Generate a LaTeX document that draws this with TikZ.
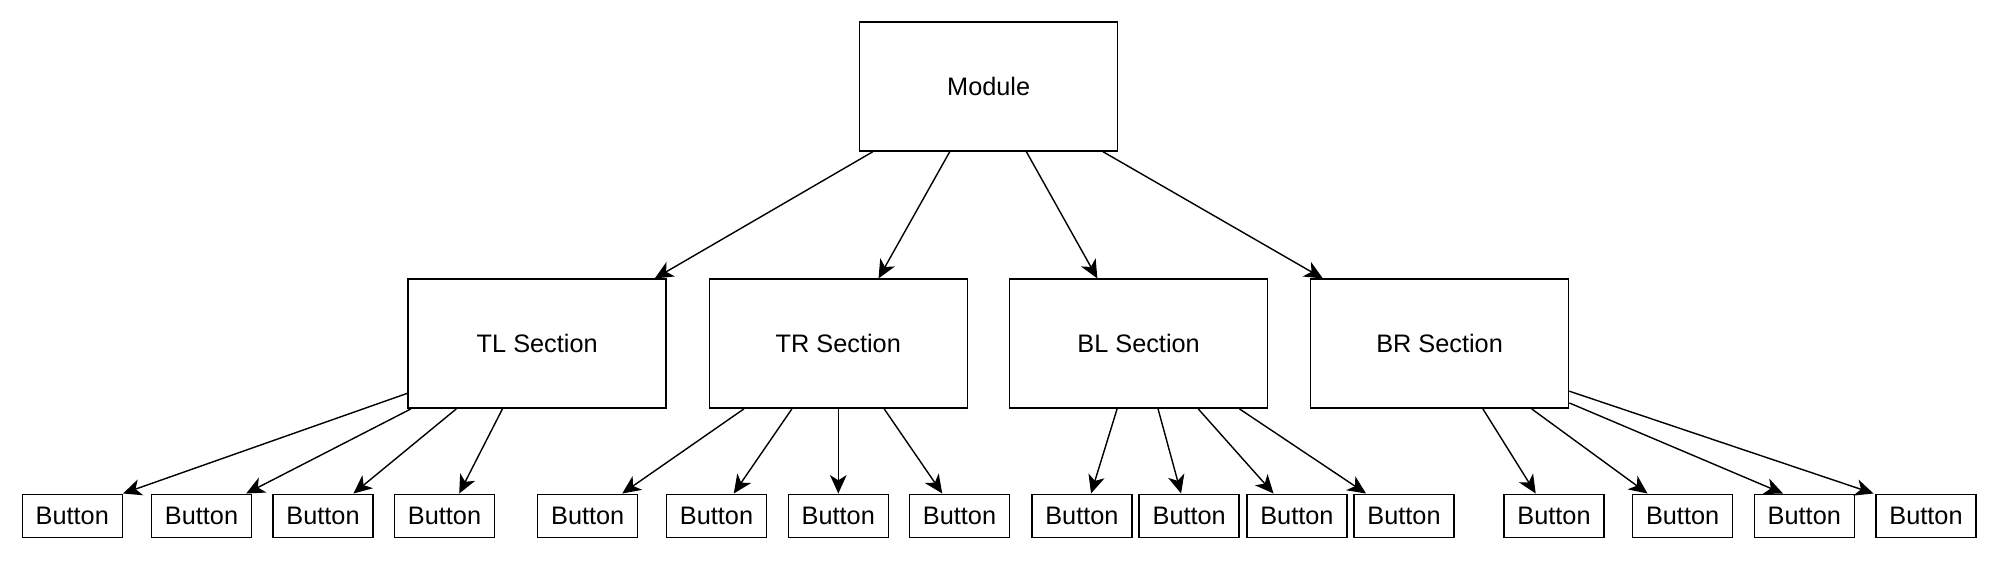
\documentclass[tikz,border=0pt]{standalone}
\usepackage{fontspec}
\setmainfont{Liberation Sans}
\usetikzlibrary{arrows.meta,calc}

\begin{document}
\begin{tikzpicture}[
  x=0.02cm, y=-0.02cm,
  box/.style={draw, line width=0.85pt, fill=white, inner sep=0pt, font=\fontsize{14.4}{17}\selectfont},
  sectionbox/.style={box, minimum width=5.16cm, minimum height=2.58cm},
  btn/.style={box, minimum width=2cm, minimum height=0.87cm},
  link/.style={draw, line width=0.8pt, -{Stealth[length=10.5pt, width=9.5pt, inset=3pt]}},
]
\useasboundingbox (0,0) rectangle (1999,561);

\node[sectionbox] (module) at (988.7,86.4) {Module};

\node[sectionbox] (tl) at (537.2,343.7) {TL Section};
\node[sectionbox] (tr) at (838.3,343.7) {TR Section};
\node[sectionbox] (bl) at (1138.6,343.7) {BL Section};
\node[sectionbox] (br) at (1439.6,343.7) {BR Section};

\foreach \n/\x in {1/72.3, 2/201.5, 3/323, 4/444.5, 5/587.7, 6/716.5, 7/838.3, 8/959.5,
                   9/1081.9, 10/1189.2, 11/1296.9, 12/1404, 13/1554, 14/1682.6, 15/1804.3, 16/1926}
  \node[btn] (b\n) at (\x,516) {Button};

% module to sections
\foreach \a/\dst/\b in {0.054/tl/0.953, 0.35/tr/0.655, 0.645/bl/0.341, 0.94/br/0.05}
  \draw[link] ($(module.south west)!\a!(module.south east)$) -- ($(\dst.north west)!\b!(\dst.north east)$);

% sections to buttons
\draw[link] ($(tl.north west)!0.88!(tl.south west)$) -- (b1.north east);
\foreach \src/\a/\dst/\b in {tl/0.013/b2/0.94, tl/0.188/b3/0.80, tl/0.366/b4/0.645,
                             tr/0.136/b5/0.84, tr/0.321/b6/0.67, tr/0.5/b7/0.5, tr/0.677/b8/0.33,
                             bl/0.417/b9/0.59, bl/0.575/b10/0.42, bl/0.73/b11/0.27, bl/0.889/b12/0.126,
                             br/0.667/b13/0.32, br/0.855/b14/0.154}
  \draw[link] ($(\src.south west)!\a!(\src.south east)$) -- ($(\dst.north west)!\b!(\dst.north east)$);
\draw[link] ($(br.north east)!0.954!(br.south east)$) -- ($(b15.north west)!0.29!(b15.north east)$);
\draw[link] ($(br.north east)!0.864!(br.south east)$) -- ([xshift=-1pt]b16.north west);
\end{tikzpicture}
\end{document}
